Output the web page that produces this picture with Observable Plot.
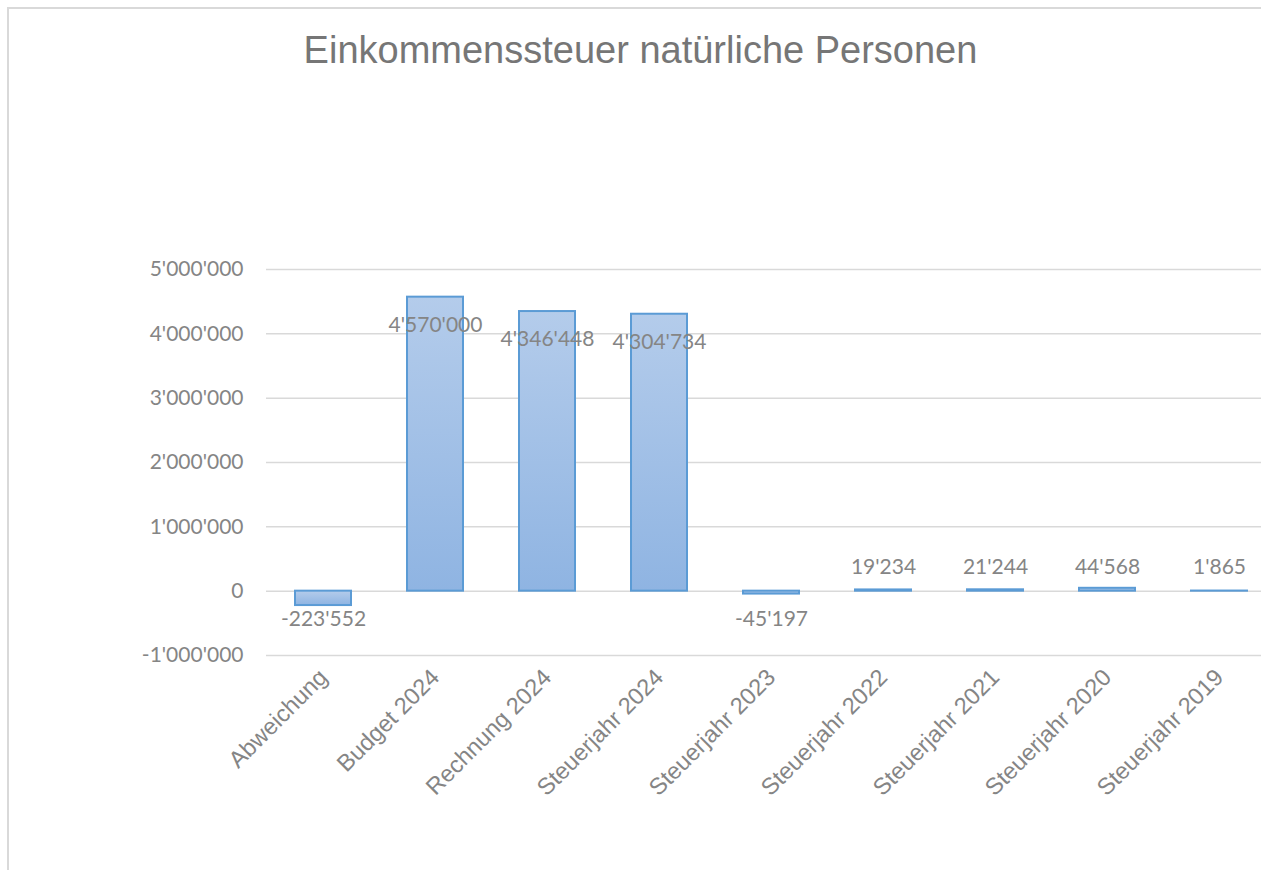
<!DOCTYPE html>
<html><head><meta charset="utf-8">
<script src="https://cdn.jsdelivr.net/npm/d3@7"></script>
<script src="https://cdn.jsdelivr.net/npm/@observablehq/plot@0.6"></script>
<style>
html,body{margin:0;padding:0;background:#fff;overflow:hidden;}
#wrap{position:relative;width:1261px;height:870px;overflow:hidden;background:#fff;}
#frame{position:absolute;left:7px;top:7px;right:-10px;bottom:-10px;border-top:2px solid #d9d9d9;border-left:2px solid #d9d9d9;}
#title{position:absolute;left:10px;width:1261px;top:30px;text-align:center;font-family:"Liberation Sans",Arial,sans-serif;font-size:38px;line-height:40px;color:#767676;white-space:pre;}
#chart{position:absolute;left:0;top:80px;width:1275px;}
#chart svg{max-width:none !important;}
</style></head><body>
<div id="wrap"><div id="frame"></div><div id="title">Einkommenssteuer natürliche Personen</div><div id="chart"></div></div>
<script>
const categories = ["Abweichung","Budget 2024","Rechnung 2024","Steuerjahr 2024","Steuerjahr 2023","Steuerjahr 2022","Steuerjahr 2021","Steuerjahr 2020","Steuerjahr 2019"];
const values = [-223552, 4570000, 4346448, 4304734, -45197, 19234, 21244, 44568, 1865];
const yTicks = [-1000000, 0, 1000000, 2000000, 3000000, 4000000, 5000000];

const data = categories.map((c, i) => ({cat: c, value: values[i]}));
const fmt = d3.formatLocale({decimal: ".", thousands: "'", grouping: [3], currency: ["", ""], minus: "-"}).format(",d");

const grad = () => {
  const defs = d3.create("svg:defs");
  const g = defs.append("linearGradient").attr("id", "barGrad").attr("x1", 0).attr("y1", 0).attr("x2", 0).attr("y2", 1);
  g.append("stop").attr("offset", "0%").attr("stop-color", "#b4cceb");
  g.append("stop").attr("offset", "100%").attr("stop-color", "#8fb4e2");
  return defs.node();
};

const labelFont = {fontFamily: "Lato, 'Open Sans', sans-serif", fontSize: 21, fill: "#858585"};

const chart = Plot.plot({
  width: 1275,
  height: 790,
  marginLeft: 266,
  marginRight: 0,
  marginTop: 189,
  marginBottom: 215,
  x: {type: "band", domain: categories, paddingInner: 0.5, paddingOuter: 0.25, label: null},
  y: {domain: [-1000000, 5000000], label: null},
  marks: [
    grad,
    Plot.ruleY(yTicks, {stroke: "#d9d9d9", strokeWidth: 1.5}),
    Plot.barY(data, {x: "cat", y: "value", fill: "url(#barGrad)", stroke: "#5b9bd5", strokeWidth: 2}),
    Plot.text(data.filter(d => !(d.value > 0 && d.value < 1e5)), {
      x: "cat", y: d => d.value > 1e5 ? d.value : 0, text: d => fmt(d.value), dy: 28, ...labelFont
    }),
    Plot.text(data.filter(d => d.value > 0 && d.value < 1e5), {
      x: "cat", y: () => 0, text: d => fmt(d.value), dy: -24, ...labelFont
    }),
    Plot.axisY({ticks: yTicks, tickFormat: fmt, tickSize: 0, tickPadding: 23, fontFamily: "Lato, 'Open Sans', sans-serif", fontSize: 21, fill: "#858585"}),
    Plot.axisX({tickRotate: -45, tickSize: 0, tickPadding: 18, fontFamily: "'Liberation Sans', Arial, sans-serif", fontSize: 23.5, fill: "#858585"})
  ]
});
document.getElementById("chart").appendChild(chart);
</script>
</body></html>
